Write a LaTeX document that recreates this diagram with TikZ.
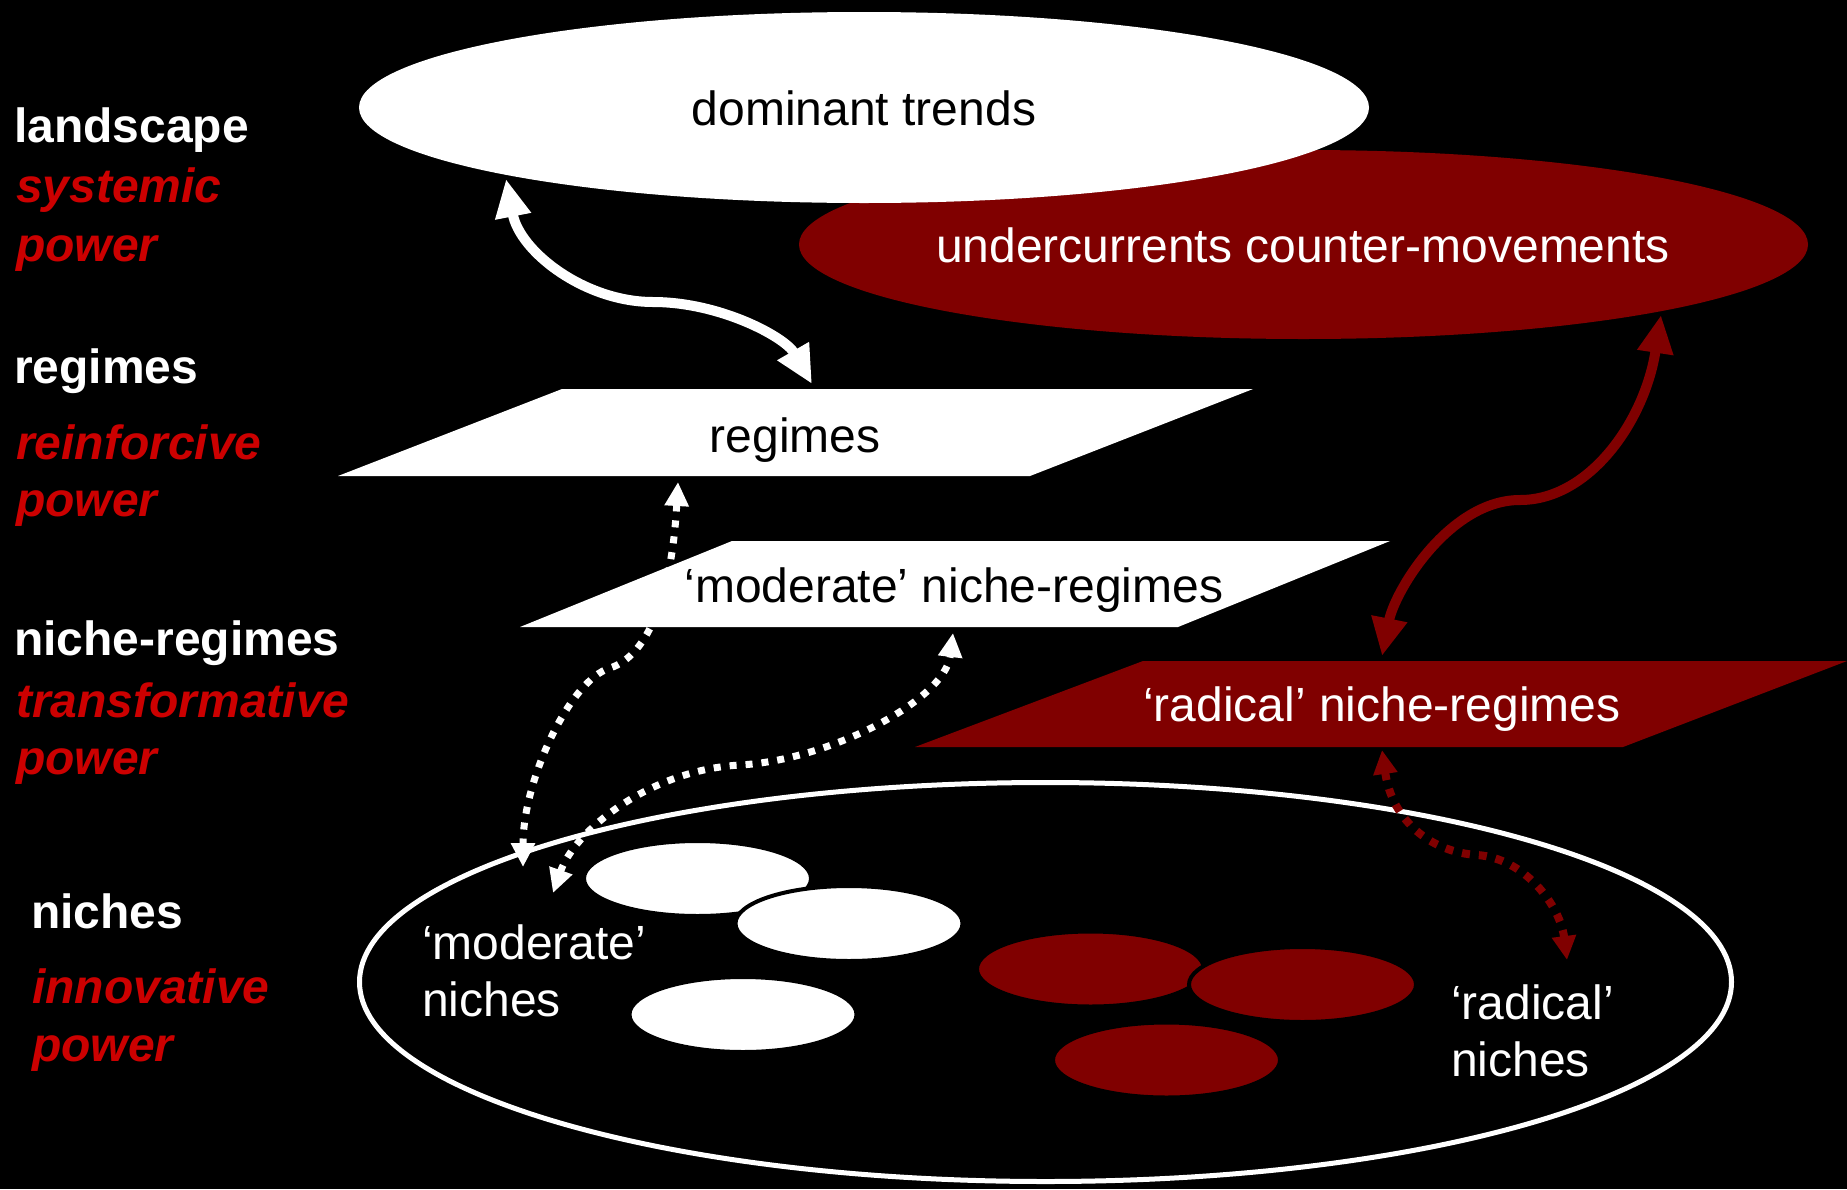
\documentclass[tikz,border=0pt]{standalone}
\usepackage{fontspec}
\setmainfont{Liberation Sans}
\usetikzlibrary{arrows.meta}
\definecolor{maroon}{RGB}{128,0,0}
\definecolor{powred}{RGB}{204,0,0}
\newcommand{\fsz}{\fontsize{48}{57.6}\selectfont}
\tikzset{word/.style={font=\fsz,inner sep=0pt,text height=35pt,text depth=1pt},
  lay/.style={word,anchor=west,font=\fsz\bfseries,text=white},
  pow/.style={lay,font=\fsz\bfseries\itshape,text=powred},
  flow/.style={>={Triangle[length=38pt,width=34pt]},<->,line width=10pt},
  hop/.style={>={Triangle[length=24pt,width=23pt]},<->,line width=7pt,dash pattern=on 7pt off 9pt}}

\begin{document}
\begin{tikzpicture}[x=1pt,y=-1pt]
\fill[black] (0,0) rectangle (1847,1189);
\useasboundingbox (0,0) rectangle (1847,1189);
% landscape
\fill[maroon] (1303.5,244.5) ellipse [x radius=504.5pt,y radius=94.5pt];
\fill[white] (864,107.5) ellipse [x radius=505pt,y radius=95.5pt];
\node[word] (dom) at (864,108) {dominant trends};
\node[word,text=white] (under) at (1303,245) {undercurrents counter-movements};
% niches
\draw[white,line width=5pt] (1045.5,982) ellipse [x radius=686pt,y radius=199.5pt];
\foreach \p/\col in {{697.5,878.5}/white,{849,923.5}/white,{743,1014.5}/white,
  {1090.5,969}/maroon,{1302.5,984.5}/maroon,{1166.5,1060}/maroon}
  {\filldraw[fill=\col,draw=black,line width=4pt] (\p) ellipse [x radius=113.5pt,y radius=37.5pt];}
\node[word,anchor=west,text=white] (modA) at (422,942) {‘moderate’};
\node[word,anchor=west,text=white] (modB) at (422,999) {niches};
\node[word,anchor=west,text=white] (radA) at (1451,1002) {‘radical’};
\node[word,anchor=west,text=white] (radB) at (1451,1059) {niches};
% arrow ends
\coordinate (domS) at (506,179);
\coordinate (regN) at (812,384);
\coordinate (regS) at (678,482);
\coordinate (modW) at (523,867);
\coordinate (mnrS) at (953,633);
\coordinate (modN) at (553,893);
\coordinate (undS) at (1661,315);
\coordinate (radN) at (1382,656);
\coordinate (radS) at (1382,750);
\coordinate (radE) at (1567,960);
\draw[hop,white] (regS) .. controls (672,590) and (650,655) .. (610,668)
  .. controls (570,680) and (523,780) .. (modW);
% regimes
\fill[white] (338,476) -- (562,389) -- (1253,389) -- (1030,476) -- cycle;
\fill[white] (520,627) -- (732,541) -- (1390,541) -- (1178,627) -- cycle;
\fill[maroon] (915,747) -- (1143,661) -- (1847,661) -- (1623,747) -- cycle;
\node[word] (reg) at (795,435) {regimes};
\node[word] (mnr) at (954,585) {‘moderate’ niche-regimes};
\node[word,text=white] (rnr) at (1382,704) {‘radical’ niche-regimes};
% connectors
\draw[flow,white] (domS) .. controls (520,252) and (585,302) .. (653,302)
  .. controls (720,302) and (785,337) .. (regN);
\draw[flow,maroon] (undS) .. controls (1645,420) and (1590,500) .. (1520,500)
  .. controls (1450,500) and (1395,590) .. (radN);
\draw[hop,white] (modN) .. controls (575,830) and (650,770) .. (740,765)
  .. controls (830,760) and (945,700) .. (mnrS);
\draw[hop,maroon,line width=8pt,dash pattern=on 8pt off 9pt] (radS) .. controls (1392,820) and (1430,852) .. (1477,855)
  .. controls (1524,858) and (1560,905) .. (radE);
% left labels
\node[lay] (land) at (14,125) {landscape};
\node[pow] (sys) at (16,185) {systemic};
\node[pow] (sysp) at (16,244) {power};
\node[lay] (regl) at (14,366) {regimes};
\node[pow] (rein) at (16,442) {reinforcive};
\node[pow] (reinp) at (16,499) {power};
\node[lay] (nrl) at (14,638) {niche-regimes};
\node[pow] (trans) at (16,700) {transformative};
\node[pow] (transp) at (16,757) {power};
\node[lay] (nil) at (31,911) {niches};
\node[pow] (inno) at (32,986) {innovative};
\node[pow] (innop) at (32,1044) {power};
\end{tikzpicture}
\end{document}
